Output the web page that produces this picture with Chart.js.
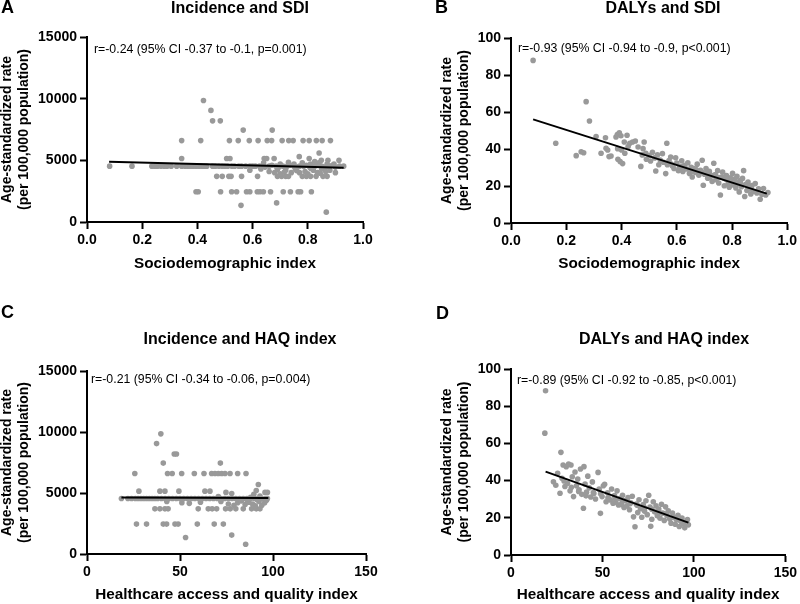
<!DOCTYPE html>
<html>
<head>
<meta charset="utf-8">
<script src="https://cdn.jsdelivr.net/npm/chart.js@4.4.0/dist/chart.umd.min.js"></script>
<style>
  html, body { margin: 0; padding: 0; background: #fff; }
  #wrap { position: relative; width: 800px; height: 604px; overflow: hidden; }
  canvas { position: absolute; }
</style>
</head>
<body>
<div id="wrap">
  <canvas id="cA" width="400" height="300" style="left:0;top:0;width:400px;height:300px"></canvas>
  <canvas id="cB" width="400" height="300" style="left:400px;top:0;width:400px;height:300px"></canvas>
  <canvas id="cC" width="400" height="304" style="left:0;top:300px;width:400px;height:304px"></canvas>
  <canvas id="cD" width="400" height="304" style="left:400px;top:300px;width:400px;height:304px"></canvas>
</div>
<script>
// ---------------- DATA ----------------
// Panel A: Incidence vs SDI
const sdiA = [0.082,0.163,0.235,0.245,0.255,0.268,0.28,0.29,0.305,0.325,0.343,0.355,0.365,0.375,0.385,0.395,0.405,0.415,0.425,0.434,0.455,0.465,0.478,0.49,0.50,
  0.343,0.412,0.343,0.422,0.449,0.455,0.483,0.47,0.49,0.395,0.403,0.484,
  0.51,0.525,0.535,0.55,0.56,0.575,0.59,0.60,0.61,0.625,0.635,0.645,0.66,0.67,0.685,0.695,0.71,0.725,0.735,0.75,0.76,0.77,0.785,0.795,0.805,0.815,0.825,0.84,0.85,0.86,0.87,0.88,0.89,0.90,0.915,0.93,
  0.516,0.548,0.588,0.62,0.653,0.669,0.707,0.731,0.747,0.783,0.805,0.831,0.852,0.882,
  0.566,0.671,0.506,0.518,0.642,0.651,0.678,0.805,0.769,0.841,0.849,0.873,0.913,
  0.514,0.522,0.56,0.618,0.69,0.705,0.72,0.73,0.78,0.795,0.81,0.83,0.855,0.87,
  0.524,0.542,0.578,0.59,0.617,0.627,0.639,0.665,0.711,0.737,0.765,0.774,0.813,
  0.558,0.687,0.867,
  0.59,0.63,0.66,0.68,0.70,0.72,0.74,0.755,0.77,0.79,0.80,0.82,0.835,0.85,0.865,0.88,0.90,0.69,0.715,0.76,0.81,0.845,
  0.64,0.70,0.75,0.78,0.81,0.84,0.87,0.895,0.73,0.825];
const incA = [4530,4530,4530,4530,4530,4530,4530,4530,4530,4530,4530,4530,4530,4530,4530,4530,4530,4530,4530,4530,4530,4530,4530,4530,4530,
  6600,6600,5150,9850,9050,8200,8200,3700,3700,2450,2450,2450,
  4530,4530,4530,4530,4530,4530,4530,4530,4530,4530,4530,4450,4530,4600,4530,4450,4530,4530,4600,4530,4450,4530,4530,4600,4530,4450,4530,4600,4530,4450,4530,4530,4600,4450,4530,4530,
  6600,6600,6600,6600,6600,6600,6600,6600,6600,6600,6600,6600,6600,6600,
  7450,7450,5150,5150,5150,5150,5150,5150,5300,5600,5000,5000,5000,
  3700,3700,3700,3700,3700,3700,3700,3700,3700,3700,3700,3700,3700,3700,
  2450,2450,2450,2450,2450,2450,2450,2450,2450,2450,2450,2450,2450,
  1350,1550,800,
  4200,4300,4100,4000,3900,4200,4000,4300,4000,4100,3900,4200,4000,4300,4100,4200,4000,4250,4050,4150,4350,3950,
  4800,4700,4700,4800,4700,4800,4700,4700,4850,4900];
const fitA = { x: [0.08, 0.93], y: [4880, 4400] };

// Panel B: DALYs vs SDI
const sdiB = [0.08,0.162,0.236,0.254,0.263,0.272,0.284,0.308,0.326,0.342,0.344,0.35,0.355,0.362,0.38,0.385,0.392,0.398,0.386,0.42,0.41,0.387,0.395,0.404,0.40,0.412,0.424,0.43,0.44,0.45,0.46,0.482,0.478,0.488,0.475,0.47,0.49,0.50,0.505,0.512,0.52,0.524,0.53,0.535,0.54,0.548,0.552,0.56,0.564,0.566,0.572,0.578,0.584,0.59,0.596,0.60,0.606,0.612,0.618,0.622,0.628,0.634,0.64,0.646,0.652,0.656,0.662,0.668,0.674,0.68,0.686,0.692,0.696,0.70,0.706,0.712,0.718,0.722,0.728,0.734,0.738,0.742,0.748,0.752,0.758,0.762,0.766,0.772,0.776,0.78,0.786,0.79,0.794,0.798,0.802,0.806,0.81,0.814,0.818,0.822,0.826,0.83,0.834,0.838,0.842,0.846,0.85,0.854,0.858,0.862,0.868,0.872,0.878,0.884,0.89,0.896,0.902,0.908,0.914,0.922,0.93,
  0.58,0.61,0.63,0.65,0.67,0.69,0.71,0.73,0.75,0.77,0.79,0.81,0.83,0.85,0.87,0.62,0.66,0.70,0.74,0.78,0.82,0.86];
const dalyB = [87.9,43.1,36.4,38.5,38,65.6,55.1,46.7,37.7,46.1,40.4,39.5,35.9,36.2,46.5,47.8,48.8,47.2,40.2,47.4,43.8,34.5,33.2,32.1,39.5,37.7,41.3,43.1,43.8,44.3,41.1,43.8,40.2,37.7,36.8,30.6,34.5,36.5,33.5,38.2,35.2,28.1,36.8,31.5,34,37.5,32.8,26.7,43.1,31.5,33.8,35.7,30.8,29.5,35.3,32.4,28.3,30.6,33.6,27.8,31.2,29.2,32.5,26.8,30.1,24.9,29.4,27.3,31.8,25.8,28.5,33.9,20.4,26.4,29.5,24.2,27.9,25.3,22.5,32.3,26.1,23.4,28.3,21.6,15.1,24.8,27.5,20.1,23.9,25.6,21.2,19.3,24.5,22.4,26.8,20.6,23.7,18.9,25.2,21.8,16.8,22.9,19.6,24.1,28.3,14.3,20.8,17.6,22.1,18.4,15.7,20.3,17.1,21.3,16.2,18.5,12.8,15.6,18.6,15.2,16.5,
  31.9,30.2,29.6,28.4,28.9,27.6,27.0,25.7,24.6,24.3,23.1,22.7,21.5,20.9,19.4,28.8,27.9,26.8,25.9,23.8,21.1,19.9];
const fitB = { x: [0.08, 0.926], y: [56.0, 15.9] };

// Panel C: Incidence vs HAQ
const haqC = [18.5,22,24,26,27.5,29,30.5,32,33.5,35,36.5,38,40,42,44,46,48,50,52,54,56,58,60,62,64,66,68,70,72,74,76,78,80,82,84,86,88,90,92,94,96,97,
  25.7,43.3,45.8,50.9,57.7,62.9,67.0,68.8,70.6,72.4,74.2,76.9,81.0,85.5,
  27.9,39.2,41.9,49.4,63.4,66.1,
  26.6,32.0,41.0,42.8,47.3,49.0,59.3,68.4,73.3,
  37.4,39.7,41.0,71.7,46.9,48.1,
  36.5,39.2,41.9,43.6,59.8,65.2,67.3,69.7,74.5,77,80,84,88.5,91,93,
  74.7,95.7,97.0,77.8,92.1,91,89.7,
  53.0,77.8,85.3,
  42.9,51,55,61,70.6,72,76,79,81,83,85,87,89,90.5,92.5,94,95.5,96.5,88,93,86,91.5];
const incC = [4550,4550,4550,4550,4550,4550,4550,4550,4550,4550,4550,4550,4550,4550,4550,4550,4550,4550,4550,4550,4550,4550,4550,4550,4550,4550,4550,4550,4550,4550,4550,4550,4550,4550,4550,4550,4550,4550,4550,4550,4550,4550,
  6600,6600,6600,6600,6600,6600,6600,6600,6600,6600,6600,6600,6600,6600,
  5150,5150,5150,5150,5150,5150,
  2450,2450,2450,2450,2450,2450,2450,2450,2450,
  9050,9850,7450,7450,8200,8200,
  3700,3700,3700,3700,3700,3700,3700,3700,3700,3700,3700,3700,3700,3700,3700,
  5050,5050,5050,4950,5700,5200,4900,
  1350,1550,800,
  4300,4200,4150,4250,4700,4300,4100,4000,4200,4350,4050,4250,4100,3950,4300,4000,4200,4400,4650,4750,4450,4450];
const fitC = { x: [18.5, 97.5], y: [4640, 4590] };

// Panel D: DALYs vs HAQ
const haqD = [18.9,18.5,23.2,25.5,26.8,27.3,27.9,28.5,29.5,30.2,30.9,31.5,32.3,32.8,33.5,34.2,35,35.8,36.5,37.2,38,38.7,39.9,39.6,40.5,41.3,42,42.8,43.6,44.5,45.3,46.2,47.6,48.2,48.9,49.8,50.5,51.2,52,52.8,53.5,54.3,55,55.8,56.6,57.3,58,58.8,59.5,60.3,61,61.8,62.5,63.3,64,64.8,65.5,66.3,67,67.8,68.5,69.3,70,70.8,71.5,72.3,73,73.8,74.5,75.3,76,76.4,77,77.8,78.5,79.3,80,80.8,81.5,82.3,83,83.8,84.5,85.3,86,86.8,87.5,88.3,89,89.8,90.5,91.3,92,92.8,93.5,94.3,95,95.8,96.5,97,
  24.5,29,33,37,41,45,49,53,57,61,65,69,73,77,81,85,89,93,96];
const dalyD = [88.3,65.5,39.4,43.9,33.2,55.2,41.3,48.4,36.8,47.5,38.6,48.9,34.5,48.4,42.1,31.4,44.6,37.2,40.8,35.1,46.2,32.6,47.5,25.1,38.2,33.8,42.4,36.1,31.2,39.3,33,30.1,44.4,35.4,22.4,31.4,37.2,38,28.6,33.5,30.2,29.6,35.5,27.8,31.9,28.3,34.5,26.9,30.4,27.2,32.1,25.5,29.3,26.4,30.9,24.3,28.1,31.6,20.5,15.2,27.4,22.8,29.7,24.9,20.3,27.1,23.6,29.2,21.7,32.1,25.8,15.4,19.2,28.6,23.2,26.4,21.1,24.7,19.8,27.3,22.5,18.6,25.9,21.3,23.8,19.4,17.1,22.6,20.2,16.5,18.9,21.4,15.3,18.2,19.8,16.7,14.6,17.9,19.1,16.2,
  37.5,39.8,36.4,34.2,31.8,33.6,32.9,30.8,30.2,28.9,27.6,26.8,25.4,24.6,22.9,22.1,20.4,18.7,17.6];
const fitD = { x: [18.9, 97], y: [44.8, 17.4] };

// Axis tick labels
const ticksSDI = ['0.0','0.2','0.4','0.6','0.8','1.0'];
const ticksHAQ = ['0','50','100','150'];
const ticksInc = ['0','5000','10000','15000'];
const ticksDaly = ['0','20','40','60','80','100'];

// ---------------- RENDER ----------------
const FONT = "'Liberation Sans', Arial, sans-serif";
const POINT = '#999999';
Chart.defaults.font.family = FONT;
Chart.defaults.color = '#000';

const panelText = {
  id: 'panelText',
  afterDraw(chart, args, o) {
    const ctx = chart.ctx;
    ctx.save();
    ctx.fillStyle = '#000';
    ctx.textBaseline = 'middle';
    ctx.font = 'bold 18px ' + FONT;
    ctx.textAlign = 'left';
    ctx.fillText(o.letter, o.lx, o.ly);
    ctx.font = 'bold 16px ' + FONT;
    ctx.textAlign = 'center';
    ctx.fillText(o.title, o.tx, o.ty);
    ctx.font = 'normal 12.3px ' + FONT;
    ctx.textAlign = 'left';
    ctx.fillText(o.note, o.nx, o.ny);
    ctx.restore();
  }
};

function pts(xs, ys) { return xs.map((x, i) => ({ x: x, y: ys[i] })); }

function makeChart(id, cfg) {
  const tickFont = { family: FONT, size: 14, weight: 'bold' };
  const axisCommon = {
    border: { display: true, color: '#000', width: 2 },
    grid: { display: true, drawOnChartArea: false, drawTicks: true, tickLength: 7, tickWidth: 2, tickColor: '#000' }
  };
  new Chart(document.getElementById(id), {
    type: 'scatter',
    data: {
      datasets: [
        { data: pts(cfg.xs, cfg.ys), backgroundColor: POINT, borderWidth: 0, pointRadius: 2.8, pointHoverRadius: 2.8, order: 2 },
        { data: pts(cfg.fit.x, cfg.fit.y), showLine: true, borderColor: '#000', borderWidth: 2, pointRadius: 0, fill: false, order: 1 }
      ]
    },
    options: {
      responsive: false,
      animation: false,
      devicePixelRatio: 1,
      layout: { padding: { left: cfg.padL, right: cfg.padR, top: cfg.padT, bottom: 0 } },
      plugins: {
        legend: { display: false },
        tooltip: { enabled: false },
        panelText: cfg.text
      },
      scales: {
        x: Object.assign({}, axisCommon, {
          type: 'linear', min: cfg.xmin, max: cfg.xmax,
          ticks: { stepSize: cfg.xstep, color: '#000', padding: 3, font: tickFont,
            callback: (v, i) => cfg.xlabels[i] },
          title: { display: true, text: cfg.xtitle, color: '#000', font: { family: FONT, size: 15.3, weight: 'bold' }, padding: { top: 0, bottom: cfg.xtPad } },
          afterFit: s => { s.height = cfg.xH; }
        }),
        y: Object.assign({}, axisCommon, {
          type: 'linear', min: cfg.ymin, max: cfg.ymax,
          ticks: { stepSize: cfg.ystep, color: '#000', padding: 3, font: tickFont,
            callback: (v, i) => cfg.ylabels[i] },
          title: { display: true, text: ['Age-standardized rate', '(per 100,000 population)'], color: '#000',
            font: { family: FONT, size: 14, weight: 'bold', lineHeight: 1.25 }, padding: { top: -2, bottom: 0 } },
          afterFit: s => { s.width = cfg.yW; }
        })
      }
    },
    plugins: [panelText]
  });
}

makeChart('cA', {
  xs: sdiA, ys: incA, fit: fitA, xmin: 0, xmax: 1, xstep: 0.2, xlabels: ticksSDI,
  ymin: 0, ymax: 15000, ystep: 5000, ylabels: ticksInc, xtitle: 'Sociodemographic index',
  padL: 0, padR: 37, padT: 37, yW: 87, xH: 78, xtPad: 27,
  text: { letter: 'A', lx: 1, ly: 8, title: 'Incidence and SDI', tx: 240, ty: 9,
    note: 'r=-0.24 (95% CI -0.37 to -0.1, p=0.001)', nx: 94, ny: 50 }
});
makeChart('cB', {
  xs: sdiB, ys: dalyB, fit: fitB, xmin: 0, xmax: 1, xstep: 0.2, xlabels: ticksSDI,
  ymin: 0, ymax: 100, ystep: 20, ylabels: ticksDaly, xtitle: 'Sociodemographic index',
  padL: 40, padR: 11, padT: 38, yW: 71, xH: 77, xtPad: 27,
  text: { letter: 'B', lx: 35, ly: 8, title: 'DALYs and SDI', tx: 263, ty: 9,
    note: 'r=-0.93 (95% CI -0.94 to -0.9, p<0.001)', nx: 118, ny: 49 }
});
makeChart('cC', {
  xs: haqC, ys: incC, fit: fitC, xmin: 0, xmax: 150, xstep: 50, xlabels: ticksHAQ,
  ymin: 0, ymax: 15000, ystep: 5000, ylabels: ticksInc, xtitle: 'Healthcare access and quality index',
  padL: 0, padR: 34, padT: 71, yW: 87, xH: 50, xtPad: 0,
  text: { letter: 'C', lx: 1, ly: 13, title: 'Incidence and HAQ index', tx: 240, ty: 40,
    note: 'r=-0.21 (95% CI -0.34 to -0.06, p=0.004)', nx: 91, ny: 80 }
});
makeChart('cD', {
  xs: haqD, ys: dalyD, fit: fitD, xmin: 0, xmax: 150, xstep: 50, xlabels: ticksHAQ,
  ymin: 0, ymax: 100, ystep: 20, ylabels: ticksDaly, xtitle: 'Healthcare access and quality index',
  padL: 40, padR: 11, padT: 69, yW: 71, xH: 49, xtPad: 0,
  text: { letter: 'D', lx: 36, ly: 14, title: 'DALYs and HAQ index', tx: 264, ty: 40,
    note: 'r=-0.89 (95% CI -0.92 to -0.85, p<0.001)', nx: 117, ny: 81 }
});
</script>
</body>
</html>
